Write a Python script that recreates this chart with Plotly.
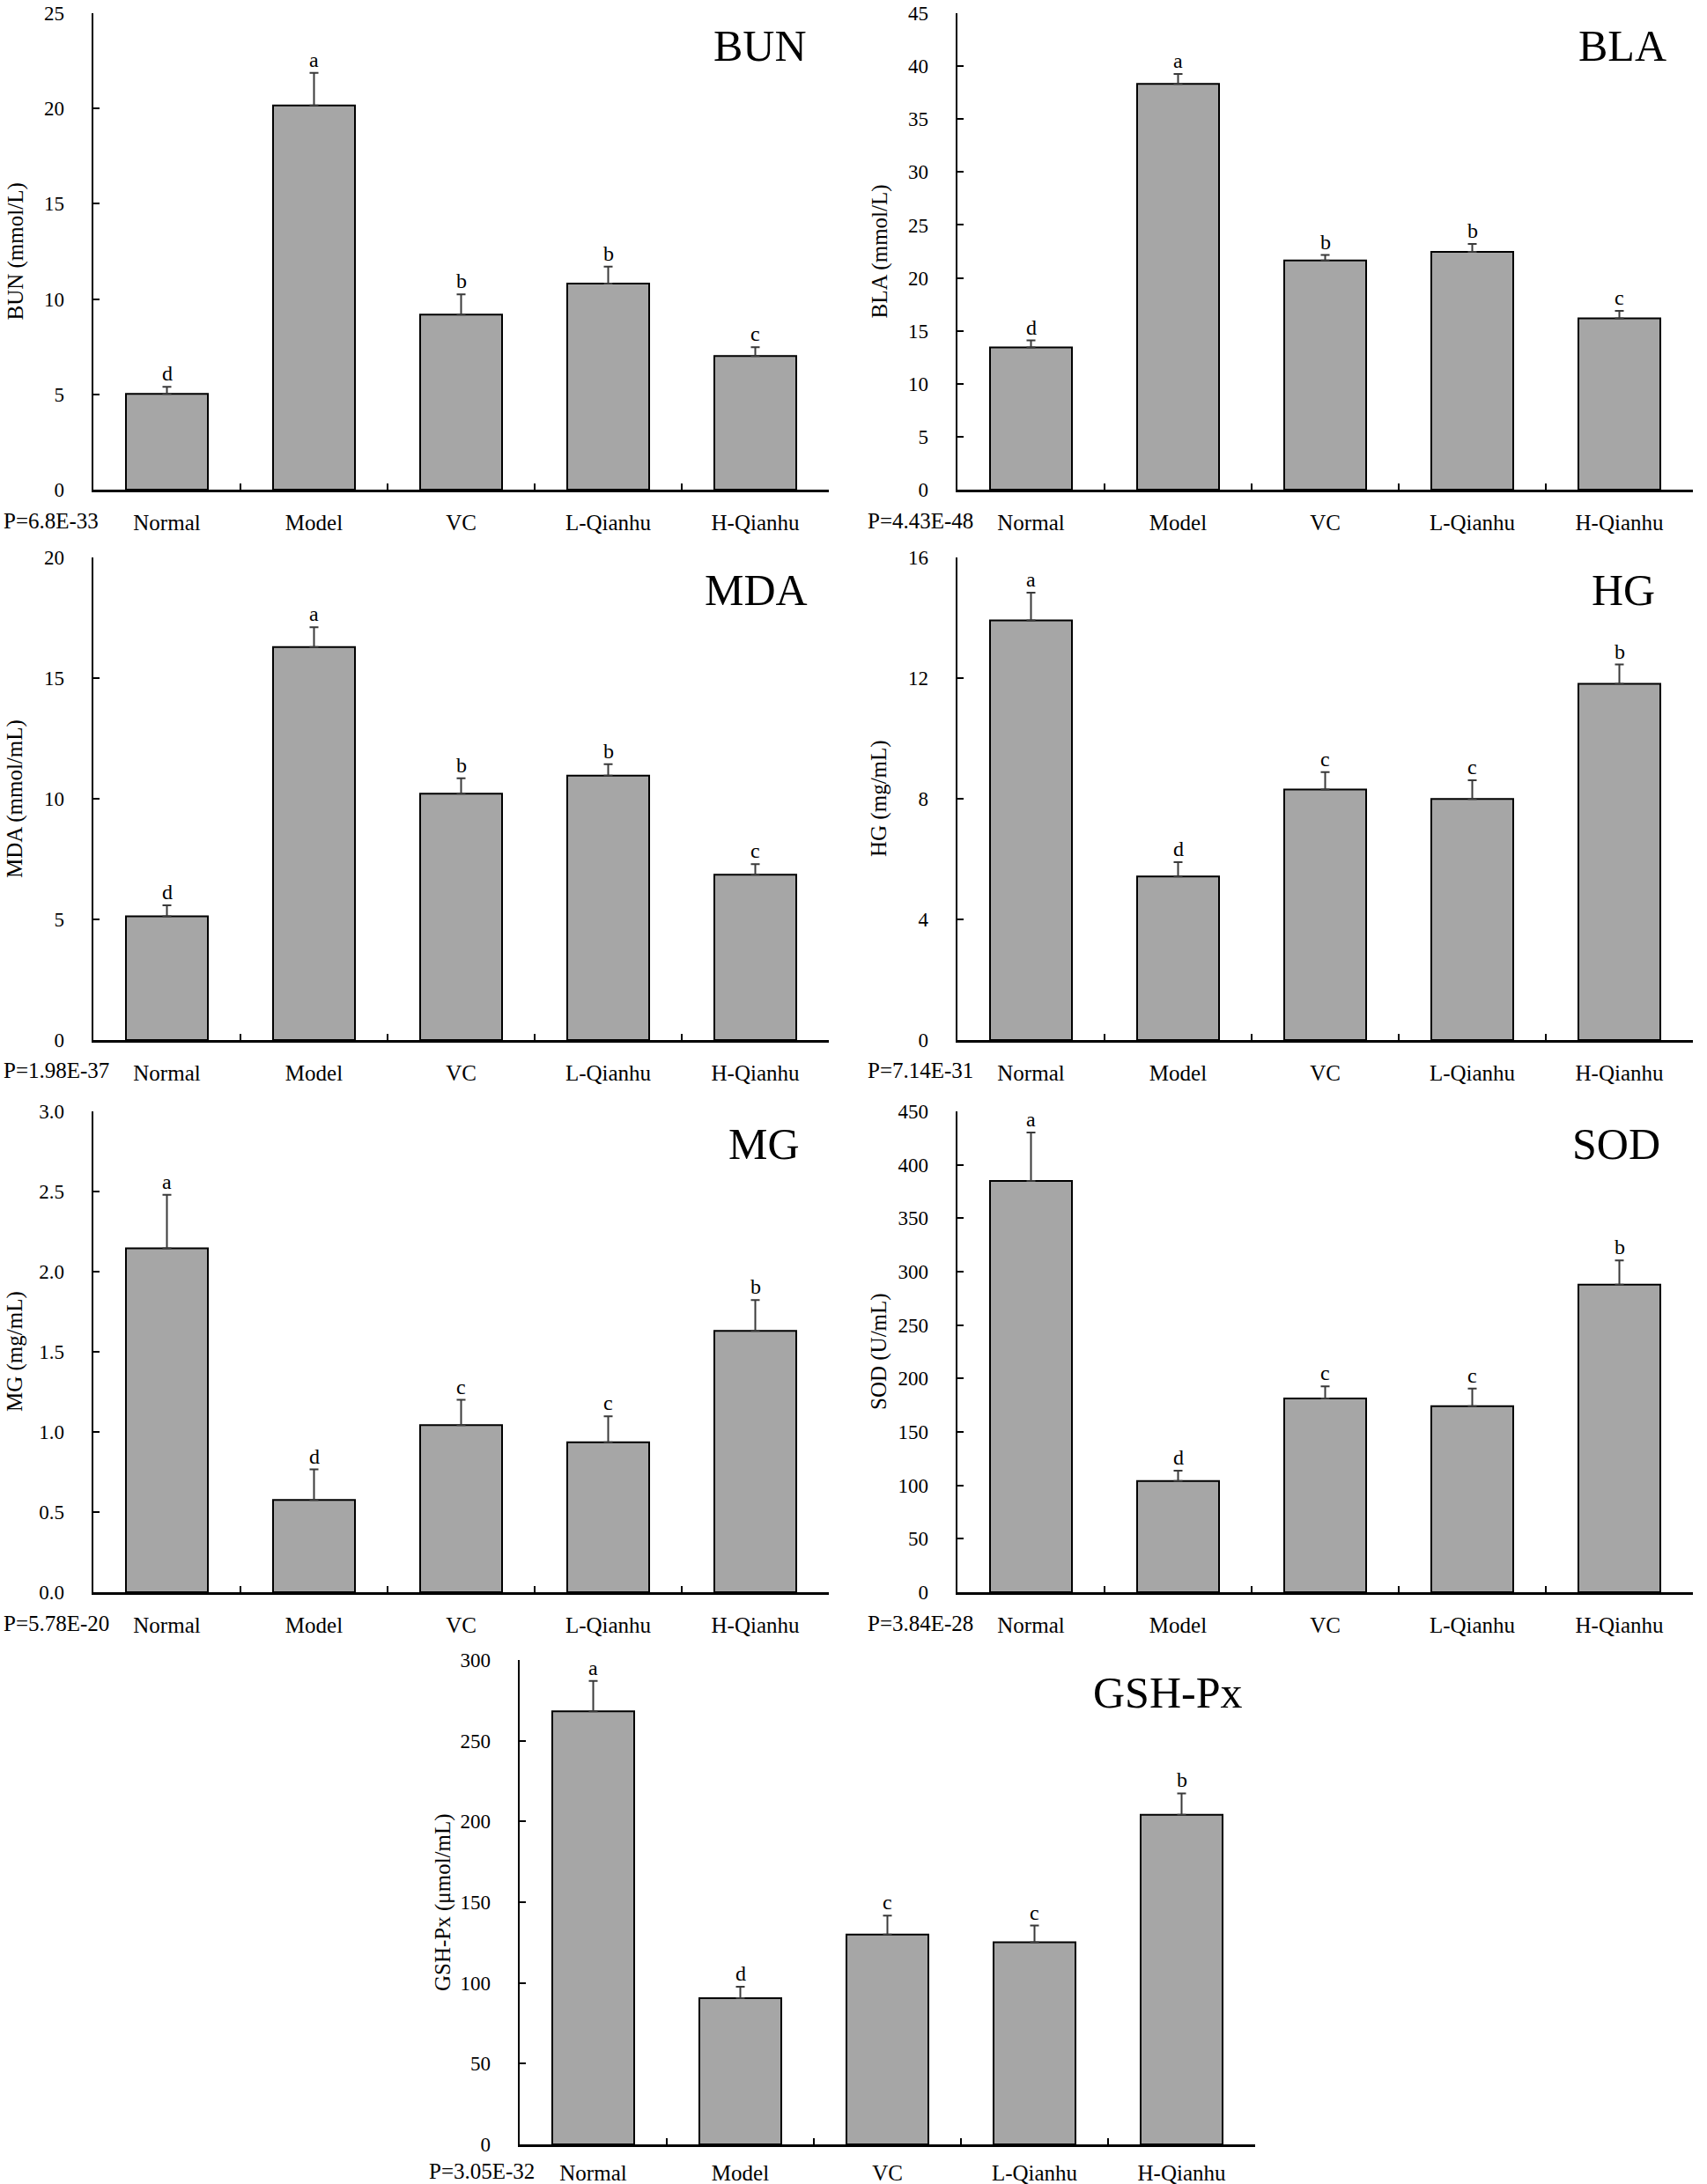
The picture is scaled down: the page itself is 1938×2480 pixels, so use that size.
import plotly.graph_objects as go

W, H = 1938, 2480
FONT = "Liberation Serif, Times New Roman, serif"

categories = ["Normal", "Model", "VC", "L-Qianhu", "H-Qianhu"]

bun_mean = [5.03, 20.16, 9.18, 10.81, 7.01]
bun_err = [0.36, 1.71, 1.07, 0.89, 0.46]
bun_letters = ["d", "a", "b", "b", "c"]

bla_mean = [13.44, 38.33, 21.64, 22.45, 16.17]
bla_err = [0.65, 0.94, 0.52, 0.75, 0.72]
bla_letters = ["d", "a", "b", "b", "c"]

mda_mean = [5.13, 16.29, 10.21, 10.96, 6.85]
mda_err = [0.45, 0.82, 0.64, 0.47, 0.44]
mda_letters = ["d", "a", "b", "b", "c"]

hg_mean = [13.91, 5.42, 8.31, 7.99, 11.81]
hg_err = [0.92, 0.48, 0.57, 0.62, 0.64]
hg_letters = ["a", "d", "c", "c", "b"]

mg_mean = [2.146, 0.576, 1.042, 0.936, 1.631]
mg_err = [0.334, 0.19, 0.158, 0.161, 0.192]
mg_letters = ["a", "d", "c", "c", "b"]

sod_mean = [384.9, 104.1, 181.4, 174.1, 287.8]
sod_err = [45.3, 9.6, 11.2, 16.5, 22.8]
sod_letters = ["a", "d", "c", "c", "b"]

gsh_mean = [268.2, 90.5, 130.0, 125.2, 204.2]
gsh_err = [18.8, 7.1, 11.7, 10.3, 13.2]
gsh_letters = ["a", "d", "c", "c", "b"]

panels = [
    dict(name="BUN", ytitle="BUN (mmol/L)", p="P=6.8E-33", mean=bun_mean, err=bun_err, letters=bun_letters,
         ymax=25, dtick=5, fmt="d", x=(106, 941), y=(15, 556), tr=918, ytx=17, px=2, lab=35),
    dict(name="BLA", ytitle="BLA (mmol/L)", p="P=4.43E-48", mean=bla_mean, err=bla_err, letters=bla_letters,
         ymax=45, dtick=5, fmt="d", x=(1087, 1922), y=(15, 556), tr=1894, ytx=998, px=983, lab=35),
    dict(name="MDA", ytitle="MDA (mmol/mL)", p="P=1.98E-37", mean=mda_mean, err=mda_err, letters=mda_letters,
         ymax=20, dtick=5, fmt="d", x=(106, 941), y=(633, 1181), tr=919, ytx=17, px=2, lab=35),
    dict(name="HG", ytitle="HG (mg/mL)", p="P=7.14E-31", mean=hg_mean, err=hg_err, letters=hg_letters,
         ymax=16, dtick=4, fmt="d", x=(1087, 1922), y=(633, 1181), tr=1881, ytx=998, px=983, lab=35),
    dict(name="MG", ytitle="MG (mg/mL)", p="P=5.78E-20", mean=mg_mean, err=mg_err, letters=mg_letters,
         ymax=3.0, dtick=0.5, fmt=".1f", x=(106, 941), y=(1262, 1808), tr=910, ytx=17, px=2, lab=35),
    dict(name="SOD", ytitle="SOD (U/mL)", p="P=3.84E-28", mean=sod_mean, err=sod_err, letters=sod_letters,
         ymax=450, dtick=50, fmt="d", x=(1087, 1922), y=(1262, 1808), tr=1887, ytx=998, px=983, lab=35),
    dict(name="GSH-Px", ytitle="GSH-Px (μmol/mL)", p="P=3.05E-32", mean=gsh_mean, err=gsh_err, letters=gsh_letters,
         ymax=300, dtick=50, fmt="d", x=(590, 1425), y=(1885, 2435), tr=1412, ytx=503, px=485, lab=30),
]

fig = go.Figure()
layout = {}
annotations = []


def px2x(v):
    return v / W


def px2y(v):
    return 1 - v / H


for i, p in enumerate(panels, start=1):
    xa = "x" if i == 1 else f"x{i}"
    ya = "y" if i == 1 else f"y{i}"
    xkey = "xaxis" if i == 1 else f"xaxis{i}"
    ykey = "yaxis" if i == 1 else f"yaxis{i}"

    fig.add_trace(go.Bar(
        x=categories, y=p["mean"], xaxis=xa, yaxis=ya, width=0.557,
        marker=dict(color="#a6a6a6", line=dict(color="black", width=2)),
        error_y=dict(type="data", symmetric=False, array=p["err"], arrayminus=[0] * 5,
                     color="#3a3a3a", thickness=2, width=5),
        showlegend=False, hoverinfo="skip",
    ))

    layout[xkey] = dict(
        domain=[px2x(p["x"][0]), px2x(p["x"][1])], anchor=ya,
        type="category", range=[-0.5, 4.5], tickson="boundaries",
        showline=True, linecolor="black", linewidth=2.5,
        ticks="inside", ticklen=7, tickwidth=2, tickcolor="black",
        showgrid=False, zeroline=False, automargin=False,
        ticklabeloverflow="allow",
        tickfont=dict(family=FONT, size=25, color="black"),
        ticklabelstandoff=p["lab"] - 22,
    )
    layout[ykey] = dict(
        domain=[px2y(p["y"][1]), px2y(p["y"][0])], anchor=xa,
        range=[0, p["ymax"]], dtick=p["dtick"], tick0=0,
        tickformat=p["fmt"],
        showline=True, linecolor="black", linewidth=2.5,
        ticks="inside", ticklen=7, tickwidth=2, tickcolor="black",
        showgrid=False, zeroline=False, automargin=False,
        ticklabeloverflow="allow",
        tickfont=dict(family=FONT, size=23, color="black"),
        ticklabelstandoff=26,
    )

    annotations.append(dict(
        text=p["name"], xref="paper", yref="paper",
        x=px2x(p["tr"]), y=px2y(max(p["y"][0], 10) + 37), xanchor="right", yanchor="middle",
        showarrow=False, font=dict(family=FONT, size=50, color="black"),
    ))
    annotations.append(dict(
        text=p["ytitle"], xref="paper", yref="paper", textangle=-90,
        x=px2x(p["ytx"]), y=px2y((p["y"][0] + p["y"][1]) / 2), xanchor="center", yanchor="middle",
        showarrow=False, font=dict(family=FONT, size=25, color="black"),
    ))
    annotations.append(dict(
        text=p["p"], xref="paper", yref="paper",
        x=px2x(p["px"]), y=px2y(p["y"][1] + p["lab"]), xanchor="left", yanchor="middle",
        showarrow=False, font=dict(family=FONT, size=25, color="black"),
    ))
    for c, m, e, l in zip(categories, p["mean"], p["err"], p["letters"]):
        annotations.append(dict(
            text=l, xref=xa, yref=ya, x=c, y=m + e, xanchor="center", yanchor="bottom",
            yshift=0, showarrow=False, font=dict(family=FONT, size=24, color="black"),
        ))

fig.update_layout(
    width=W, height=H, margin=dict(l=0, r=0, t=0, b=0, autoexpand=False),
    paper_bgcolor="white", plot_bgcolor="white", showlegend=False,
    annotations=annotations,
    **layout,
)

fig.write_html(
    "out.html",
    config={"displayModeBar": False, "staticPlot": True},
    post_script="document.body.style.margin='0';document.body.style.padding='0';",
)
